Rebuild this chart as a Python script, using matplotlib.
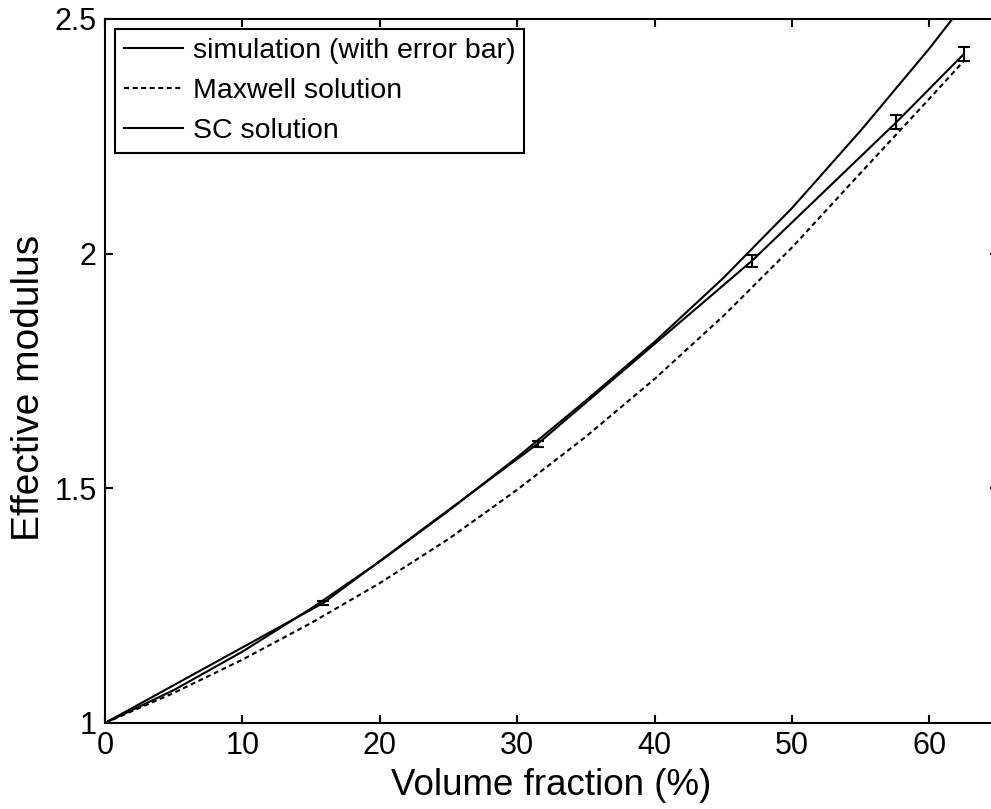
import matplotlib
matplotlib.use("Agg")
import matplotlib.pyplot as plt

plt.rcParams['font.family'] = ['Liberation Sans', 'DejaVu Sans']

# Simulation (with error bars)
sim_x = [0, 15.9, 31.5, 47.1, 57.6, 62.5]
sim_y = [1.0, 1.256, 1.595, 1.985, 2.280, 2.425]
sim_err = [0.0, 0.004, 0.006, 0.013, 0.015, 0.015]

# Maxwell solution (dashed)
max_x = [0, 5, 10, 15, 20, 25, 30, 35, 40, 45, 50, 55, 60, 62.5]
max_y = [1.0, 1.064, 1.135, 1.213, 1.298, 1.392, 1.497, 1.610, 1.733, 1.867,
         2.013, 2.172, 2.330, 2.410]

# SC solution
sc_x = [0, 5, 10, 15, 20, 25, 30, 35, 40, 45, 50, 55, 60, 63]
sc_y = [1.0, 1.070, 1.152, 1.244, 1.344, 1.452, 1.566, 1.687, 1.812, 1.948,
        2.097, 2.262, 2.437, 2.550]

xticks = [0, 10, 20, 30, 40, 50, 60]
yticks = [1, 1.5, 2, 2.5]
ytick_labels = ['1', '1.5', '2', '2.5']

fig = plt.figure(figsize=(9.91, 8.09), dpi=100)
W, H = 991, 809
ax = fig.add_axes([105 / W, (809 - 723) / H, (998 - 105) / W, 704 / H])

lw = 1.5
l1 = ax.errorbar(sim_x, sim_y, yerr=sim_err, color='black', lw=lw,
                 elinewidth=lw, capsize=4.5, capthick=lw,
                 label='simulation (with error bar)')
l2, = ax.plot(max_x, max_y, color='black', lw=lw, dashes=(2.4, 1.7),
              label='Maxwell solution')
l3, = ax.plot(sc_x, sc_y, color='black', lw=lw, label='SC solution')

ax.set_xlim(0, 65)
ax.set_ylim(1, 2.5)
ax.set_xticks(xticks)
ax.set_yticks(yticks)
ax.set_yticklabels(ytick_labels)
ax.tick_params(direction='in', length=6, width=1.5, labelsize=22,
               top=True, right=True, pad=6)
for s in ax.spines.values():
    s.set_linewidth(1.5)
ax.spines['right'].set_visible(False)

ax.set_xlabel('Volume fraction (%)', fontsize=26.5, labelpad=5)
ax.set_ylabel('Effective modulus', fontsize=28)
ax.yaxis.set_label_coords(-0.065, 0.476)

leg = ax.legend(handles=[l1.lines[0], l2, l3],
                labels=['simulation (with error bar)', 'Maxwell solution', 'SC solution'],
                loc='upper left', bbox_to_anchor=(10 / 893, 1 - 10 / 704),
                borderaxespad=0, fontsize=20.5, frameon=True, fancybox=False,
                edgecolor='black', handlelength=2.1, handletextpad=0.35,
                labelspacing=0.5, borderpad=0.3)
leg.get_frame().set_linewidth(1.5)
leg.get_frame().set_alpha(1)

fig.savefig('out.png', dpi=100)
